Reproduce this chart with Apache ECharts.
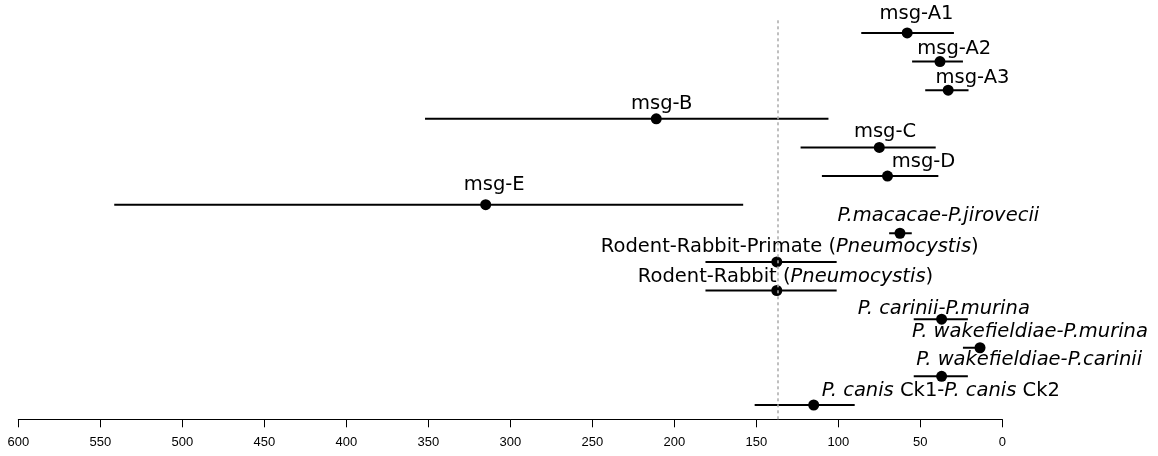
<!DOCTYPE html>
<html>
<head>
<meta charset="utf-8">
<script src="https://cdn.jsdelivr.net/npm/echarts@6/dist/echarts.min.js"></script>
<style>
  html, body { margin: 0; padding: 0; background: #fff; }
  #chart { width: 1158px; height: 456px; }
</style>
</head>
<body>
<div id="chart"></div>
<script>
// comparison labels, top row first ({i|...} = italic part)
var names = [
    'msg-A1',
    'msg-A2',
    'msg-A3',
    'msg-B',
    'msg-C',
    'msg-D',
    'msg-E',
    '{i|P.macacae-P.jirovecii}',
    'Rodent-Rabbit-Primate ({i|Pneumocystis})',
    'Rodent-Rabbit ({i|Pneumocystis})',
    '{i|P. carinii-P.murina}',
    '{i|P. wakefieldiae-P.murina}',
    '{i|P. wakefieldiae-P.carinii}',
    '{i|P. canis} Ck1-{i|P. canis} Ck2'
];

// point estimates and interval ends (x units)
var est   = [58, 38, 33, 211, 75, 70, 315, 62.4, 137.5, 137.5, 37, 13.6, 37, 115];
var lower = [86, 55, 47, 352, 123, 110, 541.5, 69, 181, 181, 54, 24, 54, 151];
var upper = [29.5, 24, 20.6, 106, 40.6, 39, 158, 55.2, 101, 101, 21, 10.5, 21, 90];

// label text: centre along x (x units) and height above its row (row units)
var labelAt   = [52.3, 29.3, 18.2, 207.7, 71.5, 48, 309.8, 39, 129.6, 132.2, 35.7, -16.9, -16.4, 37.5];
var labelRise = [0.65, 0.44, 0.44, 0.52, 0.53, 0.50, 0.68, 0.62, 0.51, 0.47, 0.35, 0.56, 0.56, 0.50];

// reference line
var refLine = 137;

var xTicks = { min: 0, max: 600, interval: 50 };

var rows = names.length;
var seriesData = names.map(function(n, i) {
    return [est[i], rows - i, lower[i], upper[i], labelAt[i], labelRise[i], i];
});

var myChart = echarts.init(document.getElementById('chart'));

var option = {
    animation: false,
    grid: { left: 18.3, right: 155.7, top: 18.6, bottom: 36.7, containLabel: false },
    xAxis: {
        type: 'value',
        inverse: true,
        min: xTicks.min,
        max: xTicks.max,
        interval: xTicks.interval,
        splitLine: { show: false },
        axisLine: { show: true, lineStyle: { color: '#000', width: 1 } },
        axisTick: { show: true, length: 8, lineStyle: { color: '#000', width: 1 } },
        axisLabel: {
            color: '#000',
            fontSize: 13,
            fontFamily: 'Liberation Sans, Arial, sans-serif',
            margin: 17
        }
    },
    yAxis: {
        type: 'value',
        min: 0.5,
        max: rows + 0.5,
        show: false
    },
    series: [{
        type: 'scatter',
        data: [],
        silent: true,
        markLine: {
            symbol: 'none',
            silent: true,
            label: { show: false },
            lineStyle: { color: '#aaa', width: 1.5, type: [3, 3] },
            data: [{ xAxis: refLine }]
        }
    }, {
        type: 'custom',
        data: seriesData,
        renderItem: function(params, api) {
            var row = api.value(1);
            var p = api.coord([api.value(0), row]);
            var a = api.coord([api.value(2), row]);
            var b = api.coord([api.value(3), row]);
            var t = api.coord([api.value(4), row + api.value(5)]);
            var idx = api.value(6);
            return {
                type: 'group',
                children: [{
                    type: 'line',
                    shape: { x1: a[0], y1: a[1], x2: b[0], y2: b[1] },
                    style: { stroke: '#000', lineWidth: 2 }
                }, {
                    type: 'circle',
                    shape: { cx: p[0], cy: p[1], r: 5.5 },
                    style: { fill: '#000' }
                }, {
                    type: 'text',
                    x: t[0],
                    y: t[1],
                    style: {
                        text: names[idx],
                        fill: '#000',
                        fontSize: 19.5,
                        fontFamily: 'DejaVu Sans',
                        align: 'center',
                        verticalAlign: 'middle',
                        rich: {
                            i: { fontStyle: 'italic', fontSize: 19.5, fontFamily: 'DejaVu Sans', fill: '#000' }
                        }
                    }
                }]
            };
        }
    }]
};

myChart.setOption(option);
</script>
</body>
</html>
